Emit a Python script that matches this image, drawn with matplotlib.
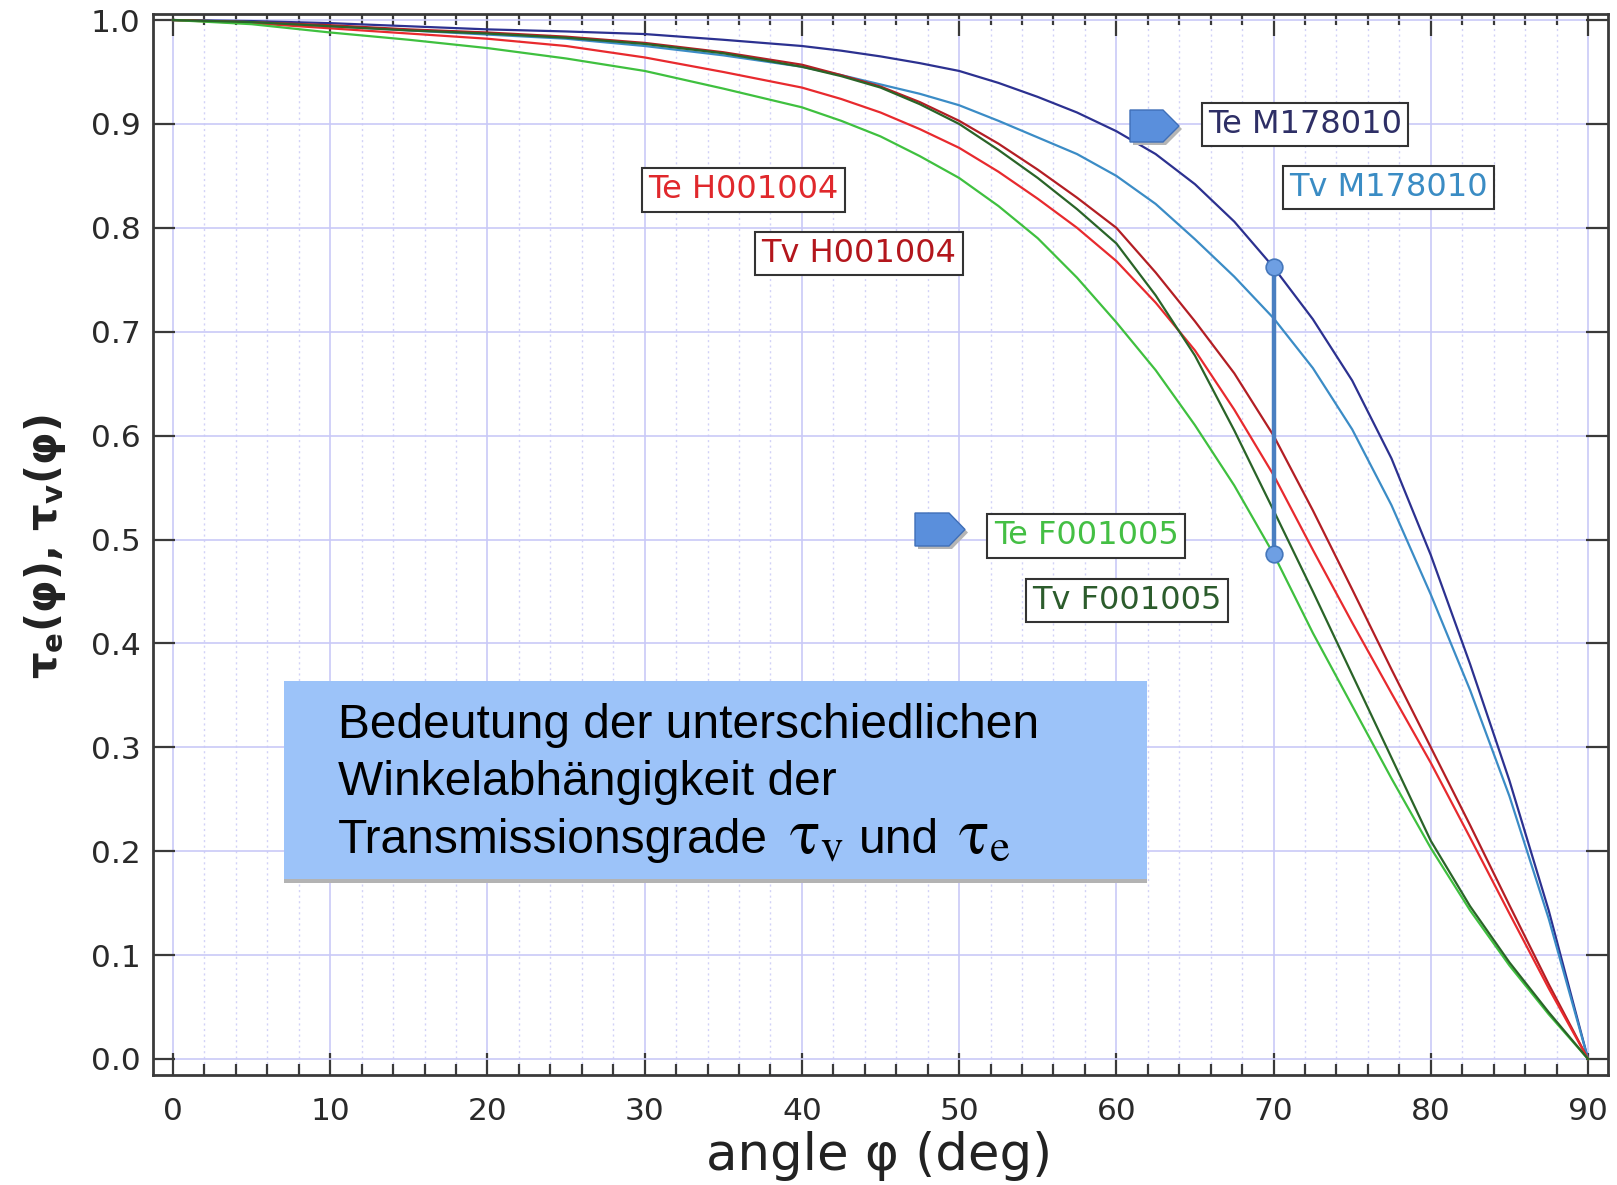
import matplotlib
matplotlib.use("Agg")
import matplotlib.pyplot as plt
from matplotlib.ticker import MultipleLocator, FormatStrFormatter
from matplotlib.patches import Rectangle, Polygon

# angle of incidence (deg)
angles = [0, 5, 10, 15, 20, 25, 30, 35, 40, 42.5, 45, 47.5, 50, 52.5, 55, 57.5,
          60, 62.5, 65, 67.5, 70, 72.5, 75, 77.5, 80, 82.5, 85, 87.5, 90]

te_m178010 = [1.0, 0.999, 0.997, 0.994, 0.991, 0.989, 0.9865, 0.981, 0.975, 0.9705,
              0.965, 0.9585, 0.951, 0.9395, 0.926, 0.911, 0.893, 0.871, 0.842, 0.806,
              0.762, 0.712, 0.653, 0.578, 0.485, 0.380, 0.268, 0.143, 0.0]
tv_m178010 = [1.0, 0.998, 0.994, 0.990, 0.986, 0.982, 0.975, 0.966, 0.955, 0.947,
              0.938, 0.929, 0.918, 0.903, 0.887, 0.871, 0.850, 0.823, 0.789, 0.753,
              0.713, 0.665, 0.606, 0.533, 0.447, 0.355, 0.253, 0.135, 0.0]
te_h001004 = [1.0, 0.997, 0.992, 0.987, 0.982, 0.975, 0.964, 0.950, 0.935, 0.924,
              0.911, 0.895, 0.877, 0.854, 0.828, 0.800, 0.768, 0.728, 0.682, 0.625,
              0.562, 0.490, 0.420, 0.352, 0.285, 0.213, 0.140, 0.068, 0.0]
tv_h001004 = [1.0, 0.998, 0.995, 0.991, 0.988, 0.984, 0.978, 0.969, 0.957, 0.947,
              0.936, 0.921, 0.903, 0.881, 0.856, 0.829, 0.800, 0.757, 0.710, 0.660,
              0.600, 0.528, 0.452, 0.375, 0.300, 0.225, 0.148, 0.072, 0.0]
te_f001005 = [1.0, 0.996, 0.988, 0.981, 0.973, 0.963, 0.951, 0.934, 0.916, 0.903,
              0.888, 0.869, 0.848, 0.821, 0.790, 0.752, 0.709, 0.663, 0.610, 0.552,
              0.486, 0.410, 0.340, 0.270, 0.203, 0.143, 0.090, 0.043, 0.0]
tv_f001005 = [1.0, 0.998, 0.994, 0.990, 0.987, 0.983, 0.977, 0.968, 0.955, 0.946,
              0.935, 0.919, 0.900, 0.875, 0.848, 0.818, 0.785, 0.735, 0.677, 0.605,
              0.528, 0.450, 0.370, 0.290, 0.210, 0.147, 0.093, 0.045, 0.0]

x_ticks = [0, 10, 20, 30, 40, 50, 60, 70, 80, 90]
y_ticks = [0.0, 0.1, 0.2, 0.3, 0.4, 0.5, 0.6, 0.7, 0.8, 0.9, 1.0]

W, H = 1617, 1185


def fx(px):
    return px / W


def fy(py):
    return 1 - py / H


fig = plt.figure(figsize=(W / 100, H / 100), dpi=100)
ax = fig.add_axes([fx(153), fy(1075), fx(1608) - fx(153), fy(14) - fy(1075)])

series = [
    (te_m178010, "#2c3190"),
    (tv_m178010, "#3b8cc6"),
    (tv_h001004, "#b31e24"),
    (te_h001004, "#e82a2e"),
    (te_f001005, "#3fc03f"),
    (tv_f001005, "#2a6428"),
]
for vals, col in series:
    ax.plot(angles, vals, color=col, lw=1.6, zorder=3, solid_joinstyle="round")

ax.set_xlim(-1.27, 91.27)
ax.set_ylim(-0.0154, 1.0058)
ax.set_xticks(x_ticks)
ax.set_yticks(y_ticks)
ax.xaxis.set_minor_locator(MultipleLocator(2))
ax.yaxis.set_major_formatter(FormatStrFormatter("%.1f"))

ax.grid(which="major", color="#c9c9f7", lw=1.2, ls="-", zorder=0)
ax.xaxis.grid(which="minor", color="#d2d2f7", lw=1.0, ls=(0, (1.5, 2.5)))
ax.set_axisbelow(True)

ax.tick_params(which="both", direction="in", top=True, right=True,
               color="#3a3a3a", width=1.6, labelcolor="#2a2a2a")
ax.tick_params(which="major", length=16, labelsize=22.5)
ax.tick_params(which="minor", length=8)
ax.tick_params(axis="x", pad=16)
ax.tick_params(axis="y", pad=9)
for sp in ax.spines.values():
    sp.set_linewidth(2)
    sp.set_color("#3a3a3a")

# marker bar at 70 deg between Te M178010 and Te F001005
i70 = angles.index(70)
ax.plot([70, 70], [te_m178010[i70], te_f001005[i70]], color="#4a7fc1", lw=3.2,
        marker="o", ms=12, mfc="#6e9fe3", mec="#4577bb", mew=1.2, zorder=5)

# arrow shapes (pentagons)
for x0, x1, xt, y0, y1 in [(1130, 1163, 1179, 110, 142), (915, 949, 965, 513, 546)]:
    ym = (y0 + y1) / 2
    pts = [(x0, y0), (x1, y0), (xt, ym), (x1, y1), (x0, y1)]
    shadow = Polygon([(fx(x + 3), fy(y + 3)) for x, y in pts], closed=True,
                     transform=fig.transFigure, fc="#b5b5b5", ec="none", zorder=6)
    shape = Polygon([(fx(x), fy(y)) for x, y in pts], closed=True,
                    transform=fig.transFigure, fc="#5a8fdc", ec="#3f6fb8", lw=1, zorder=7)
    fig.add_artist(shadow)
    fig.add_artist(shape)

# labels
labels = [
    ("Te M178010", 1305, 124.5, "#2e2f66"),
    ("Tv M178010", 1388.5, 187.5, "#3a8cc4"),
    ("Te H001004", 743.5, 190, "#e0282c"),
    ("Tv H001004", 859, 253.5, "#b3161c"),
    ("Te F001005", 1086, 536, "#44bf44"),
    ("Tv F001005", 1127, 600.5, "#2c5c2c"),
]
for txt, px, py, col in labels:
    fig.text(fx(px), fy(py), txt, ha="center", va="center", fontsize=23,
             color=col, zorder=8,
             bbox=dict(boxstyle="square,pad=0.2", fc="white", ec="#333333", lw=1.5))

# blue note box
fig.add_artist(Rectangle((fx(284), fy(883)), fx(1147) - fx(284), fy(681) - fy(883),
                         transform=fig.transFigure, fc="#b3b3b3", ec="none", zorder=6))
fig.add_artist(Rectangle((fx(284), fy(879)), fx(1147) - fx(284), fy(681) - fy(879),
                         transform=fig.transFigure, fc="#9cc3f9", ec="none", zorder=7))
note_font = dict(fontsize=34.5, family="Liberation Sans", color="black",
                 ha="left", va="baseline", zorder=8)
fig.text(fx(338), fy(738), "Bedeutung der unterschiedlichen", **note_font)
fig.text(fx(338), fy(795), "Winkelabhängigkeit der", **note_font)

# third line: sans text with larger serif tau symbols
renderer = fig.canvas.get_renderer()
pieces = [
    ("Transmissionsgrade", False, 0),
    (r"$\mathrm{\tau}_{\mathrm{v}}$", True, 21),
    ("und", False, 15),
    (r"$\mathrm{\tau}_{\mathrm{e}}$", True, 19),
]
xpos = 338
for txt, is_math, gap in pieces:
    xpos += gap
    if is_math:
        t = fig.text(fx(xpos), fy(853), txt, fontsize=46, math_fontfamily="stix",
                     color="black", ha="left", va="baseline", zorder=8)
    else:
        t = fig.text(fx(xpos), fy(853), txt, **note_font)
    xpos = t.get_window_extent(renderer=renderer).x1

fig.text(fx(879), fy(1156), "angle φ (deg)", ha="center", va="center",
         fontsize=37, color="#222222")
fig.text(fx(45), fy(547), r"τ$_{\mathregular{e}}$(φ), τ$_{\mathregular{v}}$(φ)",
         rotation=90, ha="center", va="center", fontsize=30, fontweight="bold",
         color="#222222")

fig.savefig("out.png", dpi=100)
